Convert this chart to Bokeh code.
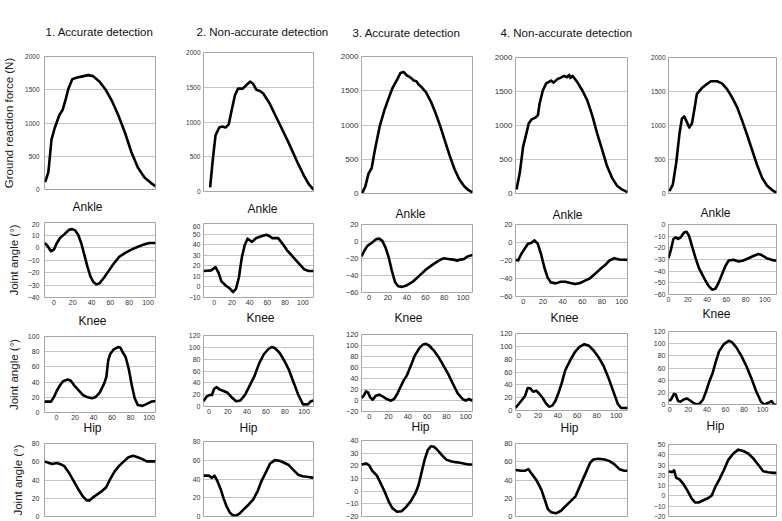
from bokeh.plotting import figure
from bokeh.models import Range1d, FixedTicker, Title
from bokeh.layouts import row, column
from bokeh.embed import file_html
from bokeh.resources import INLINE

# ---------------- data ----------------
col_titles = ["1. Accurate detection", "2. Non-accurate detection",
              "3. Accurate detection", "4. Non-accurate detection", None]
row_titles = ["Ankle", "Knee", "Hip"]
grf_label = "Ground reaction force (N)"
angle_label = "Joint angle (°)"
x_ticks = [0, 20, 40, 60, 80, 100]

# Ground reaction force (N) vs % stance
grf1_x = [0.6, 3.5, 6.3, 9.2, 13.5, 16.4, 19.3, 21.6, 25.1, 29.4, 35.2, 39.5, 43.8, 49.6, 55.3, 61.1, 66.9, 72.6, 78.4, 84.1, 89.9, 95.7, 100]
grf1_y = [110, 260, 750, 925, 1125, 1200, 1370, 1520, 1660, 1685, 1705, 1720, 1705, 1620, 1495, 1320, 1100, 850, 555, 330, 185, 100, 50]
grf2_x = [6, 8.6, 10.9, 14.3, 17.1, 20, 22.9, 25.7, 28.6, 31.4, 35.7, 38.6, 42.3, 45.1, 48, 51.4, 54.3, 60, 68.6, 77.1, 85.7, 91.4, 95.7, 100]
grf2_y = [60, 480, 805, 920, 935, 920, 965, 1175, 1385, 1480, 1480, 1525, 1580, 1550, 1465, 1445, 1410, 1270, 990, 710, 410, 225, 105, 25]
grf3_x = [0.6, 3.4, 6.3, 9.2, 12.1, 16.4, 20.7, 25, 27.9, 32.2, 35.1, 37.9, 40.8, 43, 45.1, 47, 49.4, 51.5, 53.7, 58, 62.4, 66.7, 71, 75.3, 79.6, 83.9, 88.2, 92.5, 96.8, 100]
grf3_y = [10, 100, 290, 375, 640, 980, 1220, 1415, 1540, 1665, 1760, 1775, 1725, 1705, 1680, 1650, 1640, 1590, 1560, 1480, 1345, 1175, 980, 760, 545, 350, 205, 105, 45, 15]
grf4_x = [0.9, 3.8, 6.8, 9.7, 11.8, 14.1, 17.6, 20, 21.5, 24.4, 27.4, 31.8, 34, 37.6, 40, 43.5, 46, 47.9, 49, 50.9, 55.3, 59.7, 64.1, 68.5, 72.9, 77.4, 81.8, 86.2, 90.6, 95, 100]
grf4_y = [60, 300, 690, 880, 1030, 1085, 1115, 1150, 1320, 1515, 1620, 1660, 1630, 1685, 1700, 1730, 1710, 1745, 1700, 1730, 1635, 1515, 1370, 1150, 885, 640, 400, 230, 115, 60, 20]
grf5_x = [0.9, 4, 7.1, 10.2, 12.4, 14.6, 17, 19.2, 21.7, 23.8, 26.3, 30.9, 35.6, 39.3, 44.9, 49.5, 54.2, 58.8, 63.5, 68.1, 72.8, 77.4, 82, 86.7, 91.3, 96, 100]
grf5_y = [35, 130, 445, 885, 1100, 1135, 1050, 970, 1030, 1220, 1465, 1550, 1610, 1650, 1650, 1620, 1535, 1415, 1270, 1075, 860, 640, 420, 230, 115, 50, 10]

# Ankle joint angle (deg)
ank1_x = [-9.7, -6.5, -3.2, 0, 3.2, 6.5, 11.3, 16.1, 19.4, 22.6, 25.8, 29, 32.3, 35.5, 38.7, 41.9, 45.2, 48.4, 53.2, 58.1, 62.9, 69.4, 75.8, 82.3, 88.7, 95.2, 101.6, 108]
ank1_y = [3.6, 1, -3, -1.7, 3.6, 7.6, 10.7, 14.2, 14.7, 13.7, 10.2, 3.6, -5.7, -14.9, -22.9, -27.6, -29.5, -28.7, -24.2, -18.9, -13.6, -7.5, -4.3, -1.7, 0.4, 2.3, 3.6, 3.6]
ank2_x = [-12, -3.3, 1.6, 4.9, 8.2, 13.1, 18, 21.3, 24.6, 27.9, 31.1, 34.4, 37.7, 42.6, 47.5, 54.1, 59, 62.3, 65.6, 72.1, 77, 82, 86.9, 91.8, 96.7, 101.6, 106.6, 112]
ank2_y = [15, 15.7, 18.7, 13.5, 5.3, 1.3, -1.8, -4.8, -1.8, 8.9, 27.3, 39.5, 45.6, 42.6, 46.2, 48.1, 49.3, 48.1, 46.2, 46.2, 41, 34.9, 30.3, 25.7, 21.2, 16.6, 15, 15]
ank3_x = [-8, -5, -1.7, 3.4, 7.4, 10.8, 14.1, 17.5, 20.9, 24.2, 27.6, 31, 35.4, 40.4, 47.1, 53.9, 60.6, 67.3, 74.1, 79.1, 84.2, 89.2, 93.6, 97.6, 101, 105, 110]
ank3_y = [-17.5, -10.9, -5.1, -1.2, 2.6, 3.4, 0.7, -7, -18.6, -34.1, -47.6, -52.6, -53.4, -51.4, -46.8, -39.8, -32.9, -27.5, -22.5, -19.8, -20.5, -21.3, -22.5, -21.3, -20.5, -17.5, -15.9]
ank4_x = [-8, -5.3, -2, 1.3, 4.7, 8, 11.3, 14.6, 17.9, 21.3, 24.6, 27.9, 32.9, 37.9, 42.9, 47.8, 52.8, 57.8, 62.8, 67.8, 72.8, 77.7, 82.7, 87.7, 92.7, 97.7, 106]
ank4_y = [-19.3, -20, -12.5, -6.9, -1.3, -0.6, 2.4, -1.3, -12.5, -27.5, -38.7, -44.3, -45.4, -43.6, -43.6, -45, -46.2, -45, -42.4, -39.8, -35, -30.1, -25.6, -20, -17.4, -18.9, -19.3]
ank5_x = [0, 2.4, 5.1, 7.5, 9.9, 12.7, 16.1, 18.8, 21.2, 24.7, 28.1, 31.5, 34.9, 38.4, 41.8, 45.2, 48.6, 52.1, 55.5, 58.9, 62.3, 67.5, 72.6, 77.7, 82.9, 88, 93.2, 96.6, 101.7, 106.8, 112]
ank5_y = [-28.9, -22, -12.4, -11, -12.4, -11, -6.9, -6.3, -9.6, -19.3, -28.9, -37.2, -42.7, -48.2, -52.9, -55.9, -55.1, -49.6, -42.7, -35.8, -30.9, -30.3, -31.7, -30.9, -28.9, -27, -25.3, -26.2, -28.9, -30.3, -31.1]

# Knee joint angle (deg)
knee1_x = [-13, -5.9, -2.6, 0.7, 3.9, 7.2, 12.2, 15.5, 18.8, 23.7, 28.6, 33.6, 38.5, 41.8, 46.7, 51.6, 53.9, 55.9, 58.2, 61.5, 66.4, 69.1, 71.4, 74.7, 78, 81.3, 84.5, 87.8, 92.8, 97.7, 102.6, 107]
knee1_y = [14.3, 14.3, 20.9, 29.6, 36.1, 41.3, 43.5, 41.7, 36.1, 29.6, 23, 20, 18.7, 20, 26.1, 38.3, 47, 68.7, 77.4, 82.6, 86.1, 85.2, 79.6, 73, 57.8, 36.1, 18.7, 10, 8.7, 11.3, 14.3, 15.2]
knee2_x = [-5.6, -2.3, 1, 3.3, 5.6, 8.3, 11.6, 15.5, 19.8, 24.8, 28.7, 33, 38, 42.9, 47.9, 52.8, 57.8, 62.7, 66, 69.3, 74.3, 79.2, 84.2, 89.1, 94.1, 99, 104, 107.3, 110]
knee2_y = [8.9, 16.8, 19.5, 19.5, 30, 32.7, 28.5, 26.3, 23.2, 14.2, 8.9, 10, 19.5, 35.3, 51.2, 72.4, 88.3, 97.2, 100.4, 98.8, 90.9, 77.7, 61.8, 40.6, 19.5, 3.6, 3.6, 8.9, 10]
knee3_x = [-8, -5.6, -3.3, -1.3, 1, 3.6, 6.9, 10.2, 14.2, 18.2, 22.4, 25.7, 29, 32.3, 35.6, 38.9, 43.2, 47.2, 52.1, 55.4, 58.7, 62, 67, 71.9, 76.9, 81.8, 86.8, 91.7, 96.7, 100, 103.3, 107]
knee3_y = [4.5, 8.8, 16.7, 14.8, 5.7, 1.5, 8.8, 10.6, 6.9, 2.7, -0.4, 2.7, 11.8, 24, 36.1, 45.2, 63.5, 81.7, 95.7, 101.2, 103, 100, 90.8, 78.7, 63.5, 48.3, 30, 13, 2.7, -0.4, 2.7, -0.4]
knee4_x = [-3.3, 0, 3.3, 6.6, 9.2, 11.5, 14.8, 18, 21.3, 24.6, 27.9, 31.1, 34.4, 37.7, 41, 44.3, 47.5, 52.5, 57.4, 62.3, 67.2, 72.1, 77, 82, 86.9, 91.8, 96.7, 101.6, 104.9, 111.5]
knee4_y = [4, 10.2, 16.4, 23.1, 35, 35, 29.3, 30.9, 25.7, 19.5, 11.2, 6, 7.6, 15.3, 28.3, 43.8, 62, 77.5, 90.5, 99.3, 103.4, 100.8, 93.1, 82.7, 69.7, 51.6, 30.9, 10.2, 4, 4]
knee5_x = [-0.7, 1.4, 4.5, 6.3, 9, 11.5, 14.9, 18.4, 21.9, 25.3, 28.8, 32.3, 35.8, 39.2, 42.7, 46.2, 49.7, 53.1, 58.3, 63.5, 67, 72.2, 77.4, 82.6, 87.8, 93.1, 98.3, 101.7, 106.3, 109.7, 112.2, 115]
knee5_y = [5.6, 8.3, 17.5, 16.5, 5.6, 4.5, 8.3, 9.9, 6.6, 2.8, 0.1, 1.7, 8.3, 21.9, 38.3, 51.9, 71, 87.3, 99.3, 104.7, 102.6, 92.8, 79.1, 62.8, 43.7, 21.9, 4.5, 0.1, 2.8, 5.6, 0.1, -1]

# Hip joint angle (deg)
hip1_x = [-12.5, -7.6, -4.3, 0.7, 5.6, 8.9, 13.8, 18.8, 23.7, 28.6, 32.9, 36.2, 40.1, 45.1, 50, 53.9, 58.2, 63.2, 68.1, 73, 77.9, 82.9, 87.8, 92.8, 97.7, 102.6, 107]
hip1_y = [60.4, 58.6, 57.6, 58.6, 56.9, 55.1, 48, 39.1, 30.2, 22.3, 17.7, 17.7, 21.3, 24.8, 28.4, 32, 40.9, 49.8, 55.8, 60.4, 65, 66.5, 65, 62.9, 60.4, 60.4, 60.4]
hip2_x = [-10, -4.3, -1, 1.7, 4.9, 8.3, 11.6, 14.9, 18.2, 21.5, 24.8, 28.7, 33, 38, 42.9, 47.9, 51.8, 56.1, 61.1, 66, 71, 76, 80.9, 85.8, 90.8, 95.7, 102.3, 107.3]
hip2_y = [43.6, 43.6, 41.2, 43.6, 37.7, 29.1, 18.8, 10.2, 4, 1, 1, 3.4, 7.8, 12.6, 18.1, 27.4, 37.7, 46.3, 56.6, 60.1, 59.4, 57.3, 54.9, 49.8, 44.6, 42.9, 42.2, 41.2]
hip3_x = [-12.2, -7.3, -4, -0.7, 4.3, 7.6, 12.5, 17.5, 20.8, 25.7, 30.7, 35.6, 40.6, 45.5, 48.8, 52.1, 55.4, 58.7, 62, 65.3, 68.6, 73.6, 78.5, 83.5, 88.4, 93.4, 98.3, 102.6, 106.6]
hip3_y = [21.1, 21.9, 20.4, 16.1, 12.3, 7.3, -0.3, -9.1, -13.4, -16.2, -15.9, -12.4, -7.9, -1.6, 4.7, 14.8, 24.9, 32.4, 35.5, 35, 32.9, 28.7, 24.9, 23.6, 22.9, 22.4, 21.6, 21.1, 21.1]
hip4_x = [-1.6, 3.9, 8.2, 11.5, 14.8, 19.7, 24.6, 27.9, 31.1, 34.4, 39.3, 44.3, 49.2, 54.1, 59, 63.9, 68.9, 73.8, 77, 82, 88.5, 93.4, 98.4, 103.3, 108.2, 111.5]
hip4_y = [50.9, 50.2, 50.2, 51.9, 46.7, 39.6, 29.1, 18.6, 8.1, 4.6, 3.5, 6.3, 11.6, 16.8, 22.1, 34.4, 46.7, 58.9, 62.5, 63.2, 62.5, 60.7, 57.2, 51.9, 50.2, 50.2]
hip5_x = [1, 4.5, 6.9, 9, 12.5, 16.7, 20.8, 25.3, 28.8, 32.3, 37.5, 42.7, 46.2, 49.7, 54.2, 58.3, 63.5, 68.8, 74, 79.2, 84.4, 89.6, 94.8, 100, 105.2, 110.4, 113.9]
hip5_y = [24, 23, 24.9, 17.7, 16.1, 11.4, 5.2, -2.7, -6.4, -6.4, -4.2, -2, 0.5, 8.3, 16.1, 24, 35, 41.2, 45, 43.7, 41.2, 36.5, 30.3, 24, 23, 22.4, 22.4]

grf_series = [(grf1_x, grf1_y), (grf2_x, grf2_y), (grf3_x, grf3_y), (grf4_x, grf4_y), (grf5_x, grf5_y)]
ank_series = [(ank1_x, ank1_y), (ank2_x, ank2_y), (ank3_x, ank3_y), (ank4_x, ank4_y), (ank5_x, ank5_y)]
knee_series = [(knee1_x, knee1_y), (knee2_x, knee2_y), (knee3_x, knee3_y), (knee4_x, knee4_y), (knee5_x, knee5_y)]
hip_series = [(hip1_x, hip1_y), (hip2_x, hip2_y), (hip3_x, hip3_y), (hip4_x, hip4_y), (hip5_x, hip5_y)]

# axis ranges (y: lo, hi, step) per column
grf_y = [(0, 2000, 500)] * 5
ank_y = [(-40, 20, 10), (-10, 60, 10), (-60, 20, 20), (-60, 20, 20), (-60, 0, 10)]
knee_y = [(0, 100, 20), (0, 120, 20), (-20, 120, 20), (0, 120, 20), (0, 120, 20)]
hip_y = [(0, 80, 20), (0, 80, 20), (-20, 40, 10), (0, 80, 20), (-20, 50, 10)]
grf_x = [(0, 100)] * 5
ank_x = [(-10, 108), (-12, 112), (-8, 110), (-8, 106), (0, 112)]
knee_x = [(-13, 107), (-5.6, 110), (-8, 107), (-3.3, 111.5), (-1.4, 115)]
hip_x = [(-12.5, 107), (-10, 107.3), (-12.2, 106.6), (-1.6, 111.5), (1, 113.9)]

# ---------------- layout / style ----------------
FONT = "Liberation Sans"
COL_X = [0, 170, 334, 482, 638, 782]
ROW_Y = [[0, 221, 333, 440, 521], [0, 223, 330, 437, 521], [0, 201, 331, 437, 521],
         [0, 203, 328, 438, 521], [0, 199, 325, 437, 521]]
# frame boxes (left, right, top, bottom) per column, per row
FRAMES = [
    [(39, 155, 56, 191), (38, 161, 222, 297), (40, 161, 336, 412), (40, 161, 443, 516)],
    [(197, 313, 52, 193), (196, 322, 223, 297), (203, 319, 335, 410), (198, 317, 441, 516)],
    [(356, 472, 56, 193), (359, 476, 223, 292), (361, 477, 334, 411), (357, 477, 440, 516)],
    [(514, 627, 57, 193), (514, 628, 224, 296), (513, 630, 333, 410), (515, 630, 443, 516)],
    [(668, 776, 57, 193), (668, 777, 222, 294), (666, 778, 331, 404), (668, 777, 444, 516)],
]
# headings: (horizontal offset from frame left, standoff, holder) per column
HEAD_SET = [(1, 37), (-7, 29), (-9, 35), (-15, 37), (0, 0)]
ANKLE_SET = [(28, 16, "grf"), (44, 16, "grf"), (34, 7, "ank"), (37, 5, "ank"), (32, 9, "ank")]
KNEE_SET = [(34, 9), (43, 3), (33, 13), (35, 5), (34, 1)]          # below ankle x-axis
HIP_SET = [(39, -8), (36, 5), (50, -8), (45, -4), (38, 5)]          # below knee x-axis
GRF_TICK_FS = ["6.5px", "6.5px", "8px", "8px", "6.5px"]
ANG_TICK_FS = ["7px", "7px", "7.5px", "7.5px", "7px"]


def heading(p, text, size, off, standoff, side):
    kw = dict(text=text, align="left", offset=off, text_font=FONT, text_font_size=size,
              text_font_style="normal", text_color="#111111")
    try:
        t = Title(standoff=standoff, **kw)
    except Exception:
        t = Title(standoff=max(standoff, 0), **kw)
    p.add_layout(t, side)


def panel(ci, ri, series, xr, yspec, tick_fs, show_x, ylabel):
    fl, fr, ft, fb = FRAMES[ci][ri]
    x0, x1 = COL_X[ci], COL_X[ci + 1]
    y0, y1 = ROW_Y[ci][ri], ROW_Y[ci][ri + 1]
    lo, hi, step = yspec
    p = figure(width=x1 - x0, height=y1 - y0, output_backend="svg", toolbar_location=None,
               x_range=Range1d(*xr), y_range=Range1d(lo, hi),
               min_border_left=fl - x0, min_border_right=x1 - fr,
               min_border_top=ft - y0, min_border_bottom=y1 - fb,
               title=None)
    p.line(series[0], series[1], line_color="black", line_width=2.6, line_join="round")
    p.background_fill_color = "white"
    p.border_fill_color = "white"
    p.outline_line_color = "#a6a6a6"
    p.outline_line_width = 1
    p.xgrid.visible = False
    p.ygrid.grid_line_color = "#c4c4c4"
    p.ygrid.grid_line_width = 1
    p.yaxis.ticker = FixedTicker(ticks=list(range(lo, hi + 1, step)))
    p.xaxis.ticker = FixedTicker(ticks=x_ticks)
    for ax in (p.xaxis[0], p.yaxis[0]):
        ax.axis_line_color = None
        ax.major_tick_line_color = None
        ax.minor_tick_line_color = None
        ax.major_tick_out = 0
        ax.major_tick_in = 0
        ax.major_label_text_font = FONT
        ax.major_label_text_font_size = tick_fs
        ax.major_label_text_color = "#333333"
    p.xaxis.major_label_standoff = 2
    p.yaxis.major_label_standoff = 5 if ci == 0 else 3
    p.xaxis.visible = show_x
    if ylabel:
        p.yaxis.axis_label = ylabel
        p.yaxis.axis_label_text_font = FONT
        p.yaxis.axis_label_text_font_size = "11.5px"
        p.yaxis.axis_label_text_font_style = "normal"
        p.yaxis.axis_label_text_color = "#222222"
        p.yaxis.axis_label_standoff = 7 if ri == 0 else 5
    return p


cols = []
for ci in range(5):
    g = panel(ci, 0, grf_series[ci], grf_x[ci], grf_y[ci], GRF_TICK_FS[ci], False,
              grf_label if ci == 0 else None)
    a = panel(ci, 1, ank_series[ci], ank_x[ci], ank_y[ci], ANG_TICK_FS[ci], True,
              angle_label if ci == 0 else None)
    k = panel(ci, 2, knee_series[ci], knee_x[ci], knee_y[ci], ANG_TICK_FS[ci], True,
              angle_label if ci == 0 else None)
    h = panel(ci, 3, hip_series[ci], hip_x[ci], hip_y[ci], ANG_TICK_FS[ci], False,
              angle_label if ci == 0 else None)
    if col_titles[ci]:
        heading(g, col_titles[ci], "11.5px", HEAD_SET[ci][0], HEAD_SET[ci][1], "above")
    off, so, holder = ANKLE_SET[ci]
    if holder == "grf":
        heading(g, row_titles[0], "12px", off, so, "below")
    else:
        heading(a, row_titles[0], "12px", off, so, "above")
    heading(a, row_titles[1], "12px", KNEE_SET[ci][0], KNEE_SET[ci][1], "below")
    heading(k, row_titles[2], "12px", HIP_SET[ci][0], HIP_SET[ci][1], "below")
    cols.append(column(g, a, k, h, spacing=0))

layout = row(*cols, spacing=0)
open("out.html", "w").write(file_html(layout, INLINE))
